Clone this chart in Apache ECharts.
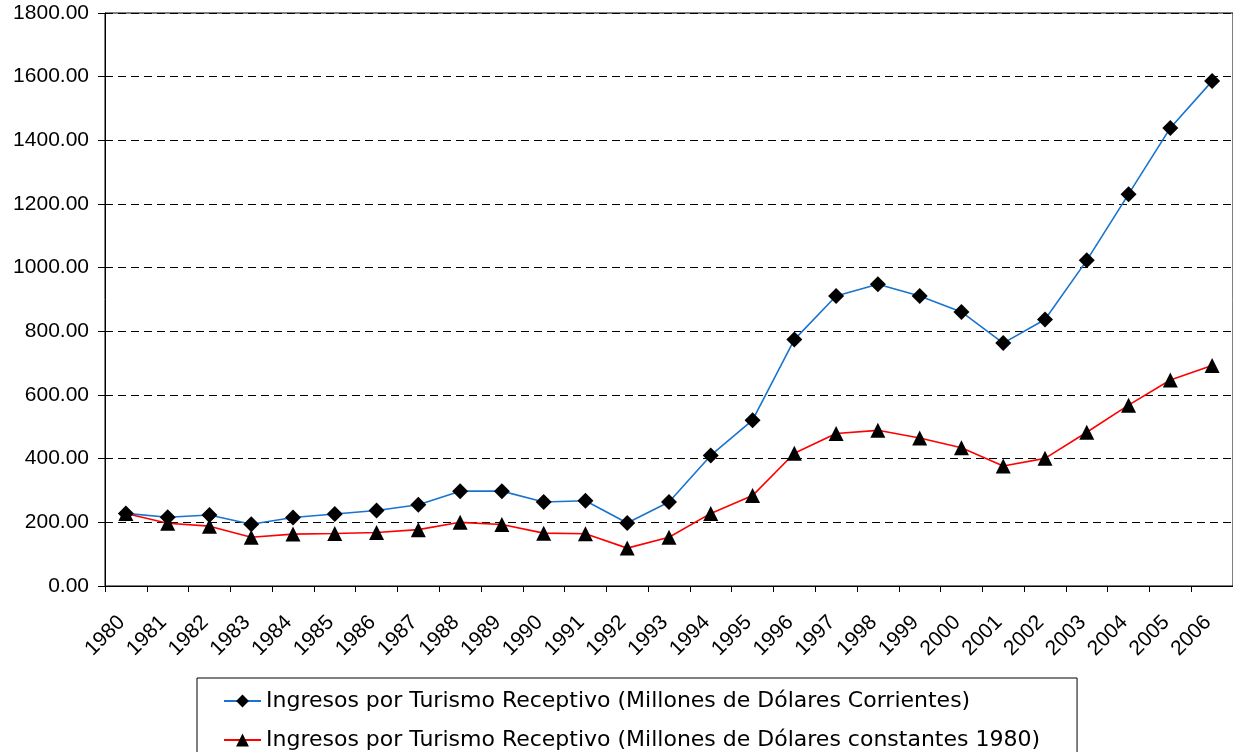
<!DOCTYPE html>
<html><head><meta charset="utf-8">
<script src="https://cdn.jsdelivr.net/npm/echarts@6/dist/echarts.min.js"></script>
<style>html,body{margin:0;padding:0;background:#fff}#c{width:1233px;height:752px}</style>
</head><body><div id="c"></div>
<script>
const years = ['1980','1981','1982','1983','1984','1985','1986','1987','1988','1989','1990','1991','1992','1993','1994','1995','1996','1997','1998','1999','2000','2001','2002','2003','2004','2005','2006'];
const corrientes = [228,216,223,194,215,226,237,255,298,298,264,268,198,264,410,521,774,911,948,911,861,763,837,1023,1231,1439,1586];
const constantes = [228,197,188,153,163,165,168,177,200,193,166,164,119,153,228,284,417,479,489,465,434,377,401,483,568,647,693];
const nameCorr = 'Ingresos por Turismo Receptivo (Millones de Dólares Corrientes)';
const nameConst = 'Ingresos por Turismo Receptivo (Millones de Dólares constantes 1980)';

const chart = echarts.init(document.getElementById('c'));
const font = '"Liberation Sans", Arial, sans-serif';
chart.setOption({
  animation: false,
  textStyle: {fontFamily: font},
  grid: {left: 105, width: 1135, top: 13, height: 573, show: true, borderColor: '#000', borderWidth: 1},
  legend: {
    orient: 'vertical', left: 197, top: 678, height: 300,
    padding: [10, 37, 30, 26], itemGap: 13, itemWidth: 37, itemHeight: 16,
    borderColor: '#000', borderWidth: 1,
    textStyle: {fontSize: 22, lineHeight: 26, color: '#000', fontFamily: '"DejaVu Sans", sans-serif'},
    data: [nameCorr, nameConst]
  },
  xAxis: {
    type: 'category', data: years, boundaryGap: true,
    axisLine: {lineStyle: {color: '#000', width: 1}},
    axisTick: {show: true, length: 6, lineStyle: {color: '#000'}},
    axisLabel: {rotate: 45, fontSize: 21, color: '#000', margin: 29, padding: [0, 6, 0, 0], interval: 0, fontFamily: font}
  },
  yAxis: {
    type: 'value', min: 0, max: 1800, interval: 200,
    axisLine: {show: true, lineStyle: {color: '#000'}},
    axisTick: {show: true, length: 7, lineStyle: {color: '#000'}},
    axisLabel: {fontSize: 21, color: '#000', margin: 16, fontFamily: font, formatter: v => v.toFixed(2)},
    splitLine: {show: true, lineStyle: {color: '#000', type: [8, 5], width: 1}}
  },
  series: [
    {name: nameCorr, type: 'line', data: corrientes, symbol: 'diamond', symbolSize: 16,
     lineStyle: {color: '#1874d0', width: 1.6}, itemStyle: {color: '#000'}},
    {name: nameConst, type: 'line', data: constantes, symbol: 'triangle', symbolSize: 15,
     lineStyle: {color: '#ff0000', width: 1.6}, itemStyle: {color: '#000'}}
  ]
});
</script></body></html>
